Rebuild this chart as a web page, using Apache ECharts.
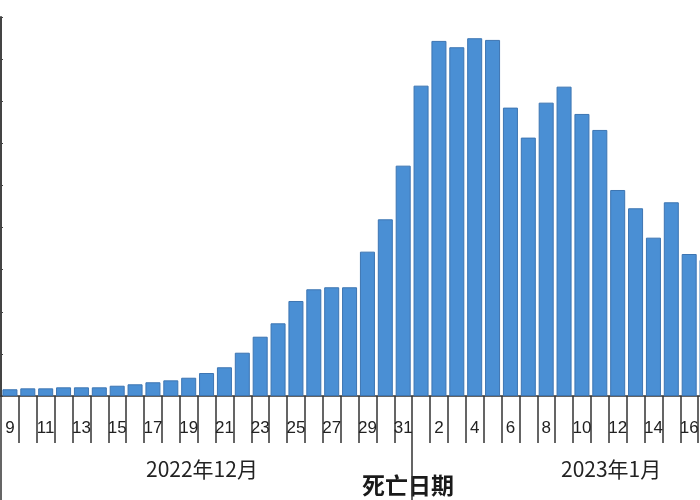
<!DOCTYPE html>
<html>
<head>
<meta charset="utf-8">
<script src="https://cdn.jsdelivr.net/npm/echarts@6/dist/echarts.min.js"></script>
<style>html,body{margin:0;padding:0;background:#fff;}#c{width:700px;height:500px;}</style>
</head>
<body>
<div id="c"></div>
<script>
const categories = [
  '2022-12-09','2022-12-10','2022-12-11','2022-12-12','2022-12-13','2022-12-14','2022-12-15',
  '2022-12-16','2022-12-17','2022-12-18','2022-12-19','2022-12-20','2022-12-21','2022-12-22',
  '2022-12-23','2022-12-24','2022-12-25','2022-12-26','2022-12-27','2022-12-28','2022-12-29',
  '2022-12-30','2022-12-31',
  '2023-01-01','2023-01-02','2023-01-03','2023-01-04','2023-01-05','2023-01-06','2023-01-07',
  '2023-01-08','2023-01-09','2023-01-10','2023-01-11','2023-01-12','2023-01-13','2023-01-14',
  '2023-01-15','2023-01-16','2023-01-17'
];
const deaths = [
  80, 91, 91, 103, 103, 103, 122,
  139, 163, 186, 217, 273, 341, 514,
  704, 863, 1128, 1267, 1291, 1291, 1714,
  2098, 2735,
  3685, 4216, 4141, 4248, 4228, 3424, 3068,
  3483, 3673, 3349, 3159, 2446, 2229, 1880,
  2300, 1686, 1615
];
const monthLabels = ['2022年12月', '2023年1月'];
const axisTitle = '死亡日期';
const yMin = 0, yMax = 4500, yStep = 500;

const chart = echarts.init(document.getElementById('c'), null, {renderer: 'canvas'});
const firstJanIndex = categories.findIndex(d => d.startsWith('2023'));

chart.setOption({
  animation: false,
  backgroundColor: '#ffffff',
  grid: {left: 1, top: 17, width: 715, bottom: 104, containLabel: false, outerBoundsMode: 'none'},
  xAxis: [{
    type: 'category',
    data: categories,
    boundaryGap: true,
    axisLine: {show: true, lineStyle: {color: '#333', width: 1.5}},
    axisTick: {show: true, interval: 0, length: 47, lineStyle: {color: '#333', width: 1.5}},
    axisLabel: {
      interval: 1, margin: 24, fontSize: 17, color: '#222',
      fontFamily: 'Liberation Sans',
      formatter: v => String(parseInt(v.slice(8), 10))
    },
    splitLine: {show: false}
  }, {
    type: 'category',
    data: categories,
    position: 'bottom',
    boundaryGap: true,
    axisLine: {show: false},
    axisTick: {
      show: true, length: 104,
      interval: (idx) => idx === 0 || idx === firstJanIndex,
      lineStyle: {color: '#333', width: 1.5}
    },
    axisLabel: {show: false},
    splitLine: {show: false}
  }],
  yAxis: {
    type: 'value', min: yMin, max: yMax, interval: yStep,
    axisLine: {show: true, lineStyle: {color: '#444', width: 2}},
    axisTick: {show: true, inside: true, length: 2, lineStyle: {color: '#444'}},
    axisLabel: {show: false},
    splitLine: {show: false}
  },
  series: [{
    type: 'bar',
    data: deaths,
    barCategoryGap: '16%',
    itemStyle: {color: '#4A8FD4', borderColor: '#3D75B2', borderWidth: 1}
  }],
  graphic: [
    {type: 'text', left: 146, top: 459, style: {text: monthLabels[0], fontSize: 21, fill: '#222', fontFamily: 'Noto Sans CJK SC'}},
    {type: 'text', left: 561, top: 459, style: {text: monthLabels[1], fontSize: 21, fill: '#222', fontFamily: 'Noto Sans CJK SC'}},
    {type: 'text', left: 362, top: 474, style: {text: axisTitle, fontSize: 23, fontWeight: 'bold', fill: '#1a1a1a', fontFamily: 'Noto Sans CJK SC'}}
  ]
});
</script>
</body>
</html>
